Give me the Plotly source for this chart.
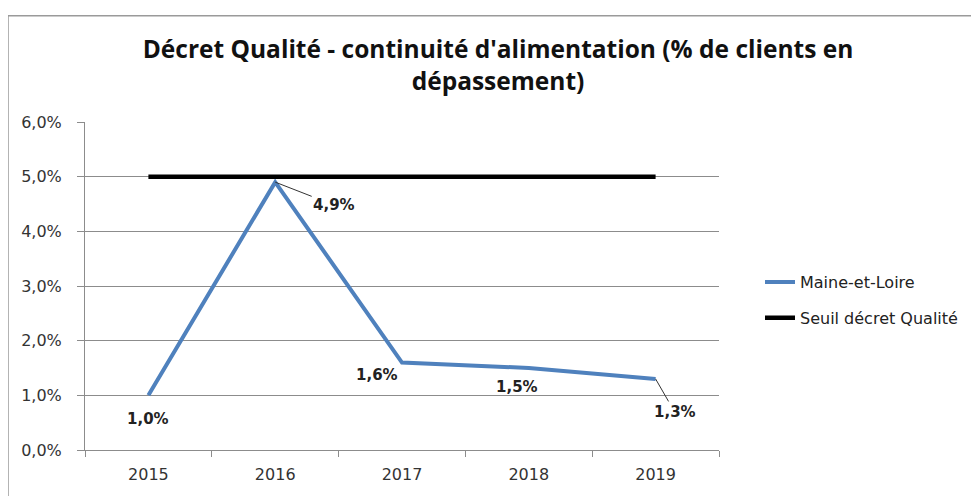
import plotly.graph_objects as go

years = ["2015", "2016", "2017", "2018", "2019"]
maine_et_loire = [0.010, 0.049, 0.016, 0.015, 0.013]
seuil = [0.05, 0.05, 0.05, 0.05, 0.05]
series_names = ["Maine-et-Loire", "Seuil décret Qualité"]
title_text = "Décret Qualité - continuité d'alimentation (% de clients en<br>dépassement)"

WIN_W, WIN_H = 979, 496
PAGE_OFF = 8  # default body margin of the html page
W, H = WIN_W - PAGE_OFF, WIN_H - PAGE_OFF
L, R, T, B = 85, 719, 122, 452  # plot area in window pixels


def px_x(p):
    return (p - L) / (R - L)


def px_y(p):
    return (B - p) / (B - T)


fig = go.Figure()
fig.add_trace(go.Scatter(
    x=years, y=maine_et_loire, mode="lines", name=series_names[0],
    line=dict(color="#4F81BD", width=4), legendgroup="a", hoverinfo="skip"))
fig.add_trace(go.Scatter(
    x=years, y=seuil, mode="lines", name=series_names[1],
    line=dict(color="#000000", width=4.5), legendgroup="b", hoverinfo="skip"))


def fmt(v):
    return f"{v*100:.1f}%".replace(".", ",")


label_font = dict(family="DejaVu Sans", size=15, color="#222222")
# label placements (pixel offsets from the point)
placements = [
    dict(showarrow=False, xshift=0, yshift=-24),
    dict(showarrow=True, ax=59, ay=23),
    dict(showarrow=False, xshift=-25, yshift=-12),
    dict(showarrow=False, xshift=-12, yshift=-19),
    dict(showarrow=True, ax=19, ay=33),
]
for i, (v, pl) in enumerate(zip(maine_et_loire, placements)):
    # category serial number on the category axis
    a = dict(x=i, y=v, xref="x", yref="y", text="<b>" + fmt(v) + "</b>",
             font=label_font)
    if pl["showarrow"]:
        a.update(showarrow=True, ax=pl["ax"], ay=pl["ay"], arrowhead=0,
                 arrowwidth=1, arrowcolor="#333333", standoff=0)
    else:
        a.update(showarrow=False, xshift=pl["xshift"], yshift=pl["yshift"])
    fig.add_annotation(**a)

# chart frame (top and left edges visible)
fig.add_shape(type="line", xref="paper", yref="paper",
              x0=px_x(8), x1=px_x(978), y0=px_y(15), y1=px_y(15),
              line=dict(color="#9a9a9a", width=1.5))
fig.add_shape(type="line", xref="paper", yref="paper",
              x0=px_x(8), x1=px_x(8), y0=px_y(15), y1=px_y(500),
              line=dict(color="#9a9a9a", width=1.5))

axis_font = dict(family="DejaVu Sans", size=16, color="#333333")
fig.update_layout(
    width=W, height=H,
    margin=dict(l=L - PAGE_OFF, r=WIN_W - R, t=T - PAGE_OFF, b=WIN_H - B),
    paper_bgcolor="white", plot_bgcolor="white",
    separators=", ",
    title=dict(text="<b>" + title_text + "</b>",
               font=dict(family="Open Sans", size=24.5, color="#111111"),
               xref="container", yref="container",
               x=(498 - PAGE_OFF) / W, y=1 - (58 - PAGE_OFF) / H,
               xanchor="center", yanchor="middle"),
    showlegend=True,
    legend=dict(x=px_x(760), y=px_y(266), xanchor="left", yanchor="top",
                font=dict(family="DejaVu Sans", size=16, color="#222222"),
                traceorder="grouped", tracegroupgap=12,
                bgcolor="rgba(0,0,0,0)"),
    xaxis=dict(type="category", range=[-0.5, len(years) - 0.5],
               tickson="boundaries", ticks="outside",
               ticklen=6, tickcolor="#8c8c8c", showline=True,
               linecolor="#8c8c8c", linewidth=1, showgrid=False,
               tickfont=axis_font, ticklabelstandoff=10, fixedrange=True),
    yaxis=dict(range=[0, 0.06], dtick=0.01, tickformat=".1%", ticks="outside",
               ticklen=7, tickcolor="#8c8c8c", showline=True,
               linecolor="#8c8c8c", linewidth=1, showgrid=True,
               gridcolor="#8c8c8c", gridwidth=1, zeroline=False,
               tickfont=axis_font, ticklabelstandoff=12, fixedrange=True),
)

fig.write_html("out.html")
